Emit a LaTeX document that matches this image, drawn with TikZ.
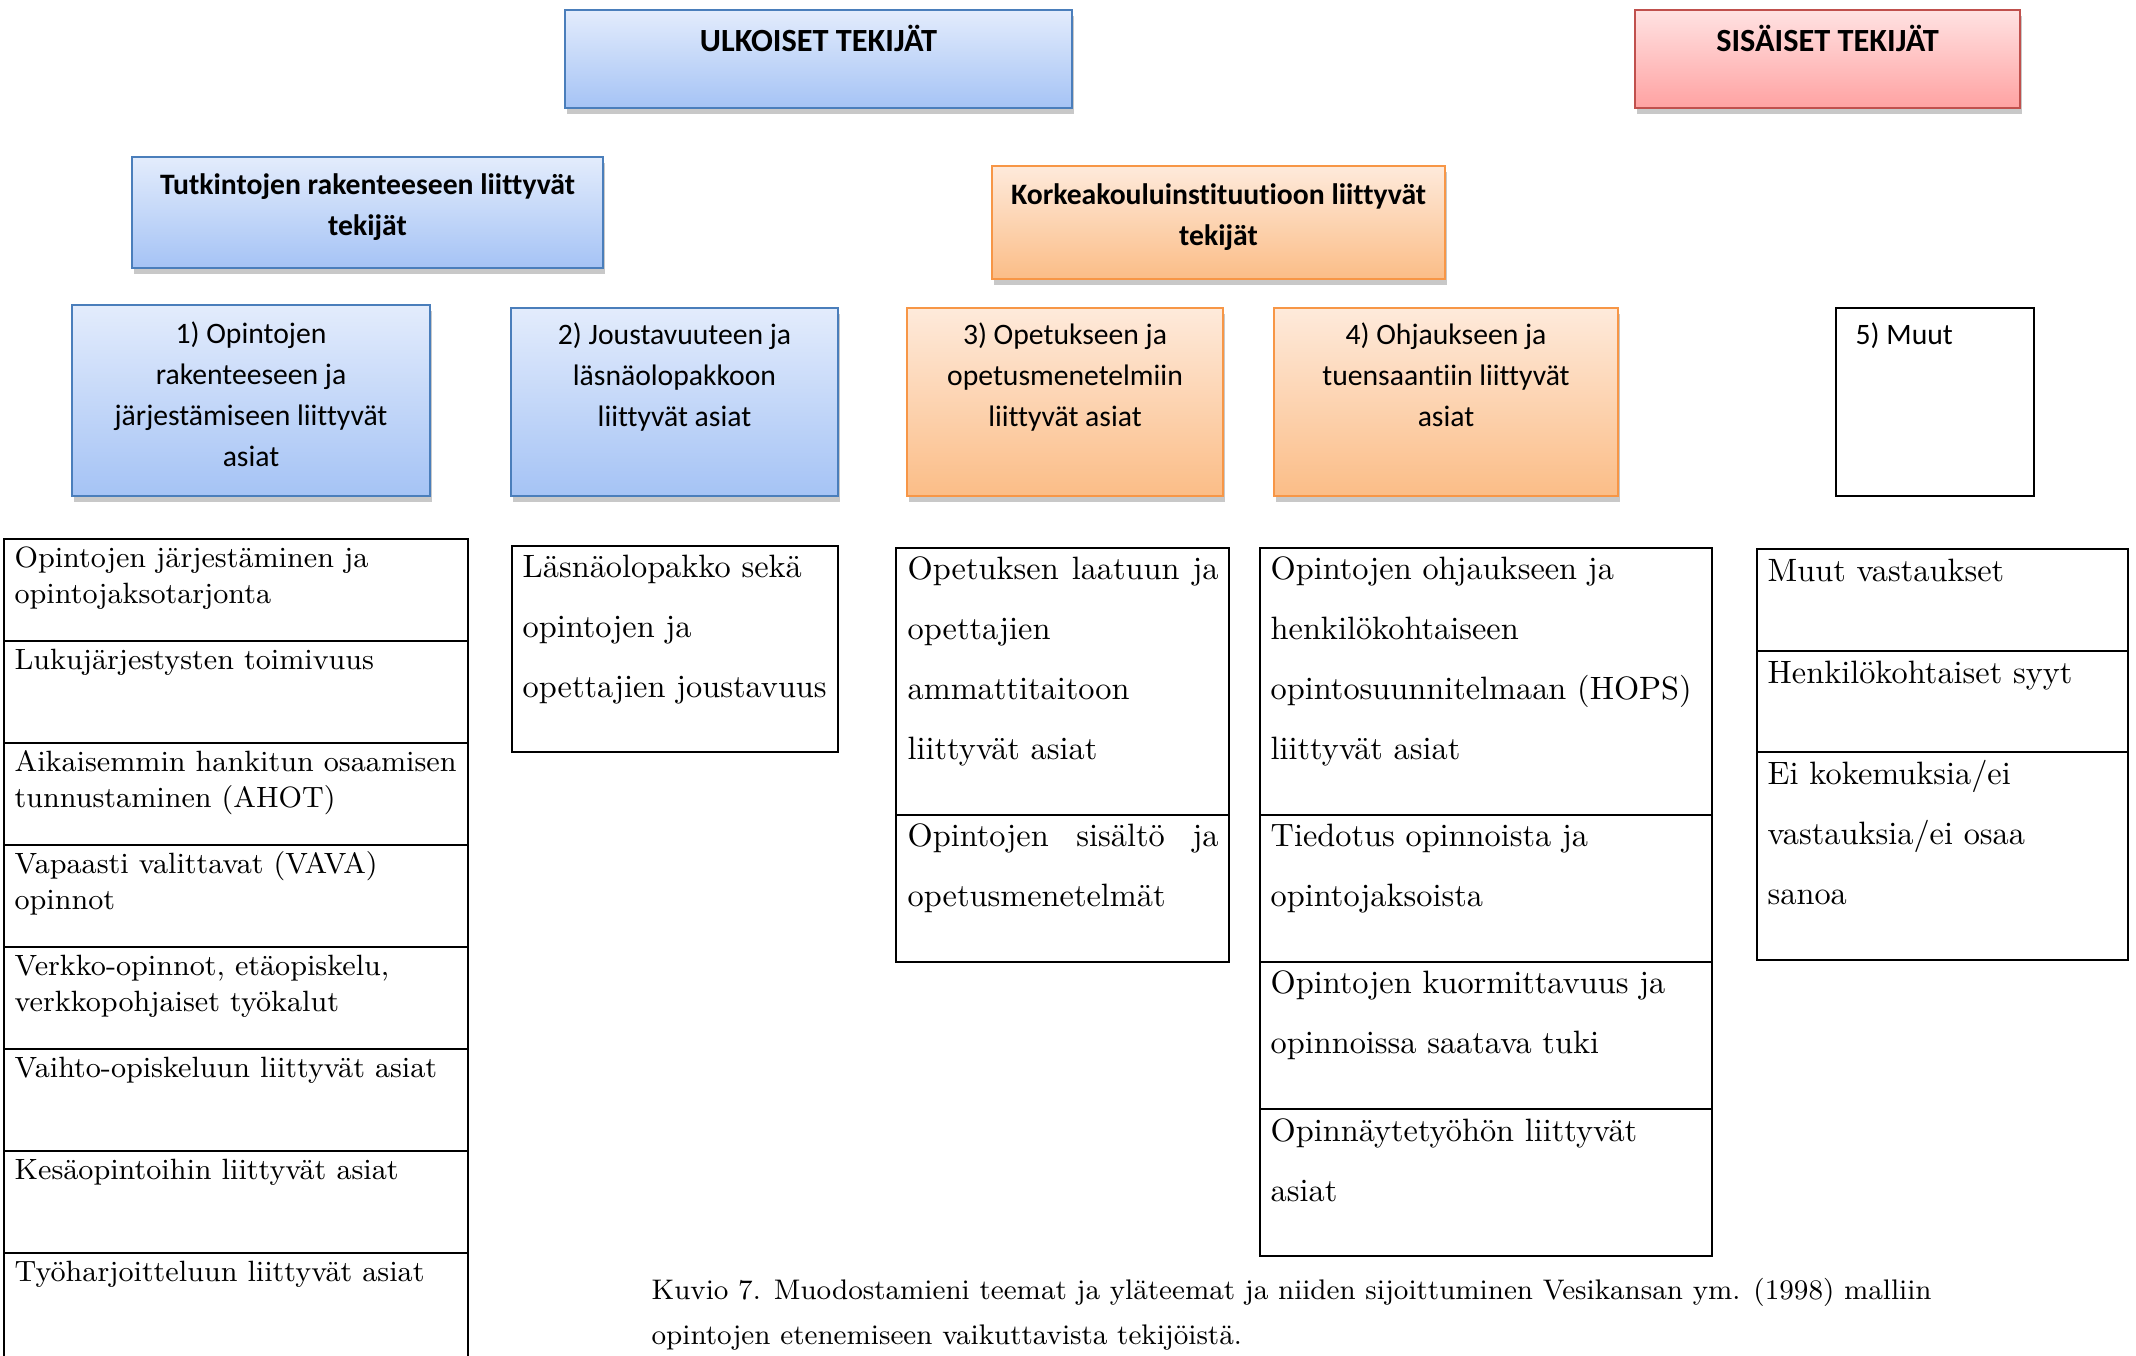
\documentclass[tikz,border=0pt]{standalone}
\usepackage{fontspec}
\newfontfamily\carl[Ligatures=NoCommon]{Carlito}
\usetikzlibrary{shadows}
\definecolor{bline}{HTML}{4A7EBB}
\definecolor{btop}{HTML}{E3ECFC}
\definecolor{bbot}{HTML}{A5C3F5}
\definecolor{oline}{HTML}{F79646}
\definecolor{otop}{HTML}{FEEADB}
\definecolor{obot}{HTML}{FBBD87}
\definecolor{rline}{HTML}{C0504D}
\definecolor{rtop}{HTML}{FFE2E2}
\definecolor{rbot}{HTML}{FFA2A2}
\begin{document}
\begin{tikzpicture}[x=0.3pt,y=-0.3pt,
  sh/.style={drop shadow={shadow xshift=0.6pt,shadow yshift=-1.8pt,opacity=0.3,fill=black!70}},
  sz/.style 2 args={minimum width=#1*0.3pt, minimum height=#2*0.3pt},
  bluebox/.style={draw=bline, line width=0.6pt, top color=btop, bottom color=bbot, sh, inner sep=0},
  orangebox/.style={draw=oline, line width=0.6pt, top color=otop, bottom color=obot, sh, inner sep=0},
  redbox/.style={draw=rline, line width=0.6pt, top color=rtop, bottom color=rbot, sh, inner sep=0},
  plainbox/.style={draw=black, line width=0.4pt, fill=white, inner sep=0},
  lbl/.style={font=\carl\fontsize{8.9pt}{12.3pt}\selectfont, align=center, inner sep=0, anchor=north},
  hdr/.style={font=\carl\bfseries\fontsize{8.9pt}{12.3pt}\selectfont, align=center, inner sep=0, anchor=north},
  tophdr/.style={font=\carl\bfseries\fontsize{9.7pt}{12.3pt}\selectfont, inner sep=0, anchor=base},
  smalltxt/.style={font=\fontsize{8.8pt}{10.8pt}\selectfont, align=left, inner sep=0, anchor=north west},
  bigtxt/.style={font=\fontsize{9.7pt}{18pt}\selectfont, align=left, inner sep=0, anchor=north west},
  captxt/.style={font=\fontsize{8.5pt}{13.5pt}\selectfont, align=left, inner sep=0, anchor=north west},
  tline/.style={line width=0.8pt}
]
\useasboundingbox[fill=white] (0,0) rectangle (2136,1355);

% top headers
\node[bluebox, sz={507}{98}] (ulk) at (818.5,59) {};
\node[tophdr] (ulkt) at (818.5,51) {ULKOISET TEKIJÄT};
\node[redbox, sz={385}{98}] (sis) at (1827.5,59) {};
\node[tophdr] (sist) at (1827.5,51) {SISÄISET TEKIJÄT};

\node[bluebox, sz={471}{111}] (tut) at (367.5,212.5) {};
\node[hdr] (tutt) at (367.5,165) {\strut Tutkintojen rakenteeseen liittyvät\\tekijät};
\node[orangebox, sz={453}{113}] (kor) at (1218.5,222.5) {};
\node[hdr] (kort) at (1218.5,175) {\strut Korkeakouluinstituutioon liittyvät\\tekijät};

% category boxes
\node[bluebox, sz={358}{191}] (b1) at (251,400.5) {};
\node[lbl] (b1t) at (251,314) {\strut 1) Opintojen\\rakenteeseen ja\\järjestämiseen liittyvät\\asiat};
\node[bluebox, sz={327}{188}] (b2) at (674.5,402) {};
\node[lbl] (b2t) at (674.5,315) {\strut 2) Joustavuuteen ja\\läsnäolopakkoon\\liittyvät asiat};
\node[orangebox, sz={316}{188}] (b3) at (1065,402) {};
\node[lbl] (b3t) at (1065,315) {\strut 3) Opetukseen ja\\opetusmenetelmiin\\liittyvät asiat};
\node[orangebox, sz={344}{188}] (b4) at (1446,402) {};
\node[lbl] (b4t) at (1446,315) {\strut 4) Ohjaukseen ja\\tuensaantiin liittyvät\\asiat};
\node[plainbox, sz={198}{188}] (b5) at (1935,402) {};
\node[lbl, anchor=north west] (b5t) at (1855,315) {\strut 5) Muut};

% table 1
\draw[tline] (4,1362) -- (4,539) -- (468,539) -- (468,1362);
\foreach \yy in {641,743,845,947,1049,1151,1253} \draw[tline] (4,\yy) -- (468,\yy);
\node[smalltxt] (t1a) at (14,542) {\strut Opintojen järjestäminen ja\\opintojaksotarjonta};
\node[smalltxt] (t1b) at (14,644) {\strut Lukujärjestysten toimivuus};
\node[smalltxt] (t1c) at (14,746) {\strut Aikaisemmin hankitun osaamisen\\tunnustaminen (AHOT)};
\node[smalltxt] (t1d) at (14,848) {\strut Vapaasti valittavat (VAVA)\\opinnot};
\node[smalltxt] (t1e) at (14,950) {\strut Verkko-opinnot, etäopiskelu,\\verkkopohjaiset työkalut};
\node[smalltxt] (t1f) at (14,1052) {\strut Vaihto-opiskeluun liittyvät asiat};
\node[smalltxt] (t1g) at (14,1154) {\strut Kesäopintoihin liittyvät asiat};
\node[smalltxt] (t1h) at (14,1256) {\strut Työharjoitteluun liittyvät asiat};

% table 2
\draw[tline] (512,546) rectangle (838,752);
\node[bigtxt] (t2a) at (522,535) {\strut Läsnäolopakko sekä\\opintojen ja\\opettajien joustavuus};

% table 3
\draw[tline] (896,548) rectangle (1229,962);
\draw[tline] (896,815) -- (1229,815);
\node[bigtxt] (t3a) at (907,537) {\strut\makebox[93.3pt][s]{Opetuksen laatuun ja}\\opettajien\\ammattitaitoon\\liittyvät asiat};
\node[bigtxt] (t3b) at (907,804) {\strut\makebox[93.3pt][s]{Opintojen sisältö ja}\\opetusmenetelmät};

% table 4
\draw[tline] (1260,548) rectangle (1712,1256);
\foreach \yy in {815,962,1109} \draw[tline] (1260,\yy) -- (1712,\yy);
\node[bigtxt] (t4a) at (1270,537) {\strut Opintojen ohjaukseen ja\\henkilökohtaiseen\\opintosuunnitelmaan (HOPS)\\liittyvät asiat};
\node[bigtxt] (t4b) at (1270,804) {\strut Tiedotus opinnoista ja\\opintojaksoista};
\node[bigtxt] (t4c) at (1270,951) {\strut Opintojen kuormittavuus ja\\opinnoissa saatava tuki};
\node[bigtxt] (t4d) at (1270,1099) {\strut Opinnäytetyöhön liittyvät\\asiat};

% table 5
\draw[tline] (1757,549) rectangle (2128,960);
\foreach \yy in {651,752} \draw[tline] (1757,\yy) -- (2128,\yy);
\node[bigtxt] (t5a) at (1767,539) {\strut Muut vastaukset};
\node[bigtxt] (t5b) at (1767,641) {\strut Henkilökohtaiset syyt};
\node[bigtxt] (t5c) at (1767,742) {\strut Ei kokemuksia/ei\\vastauksia/ei osaa\\sanoa};

% caption
\node[captxt] (cap) at (651,1267) {\strut Kuvio 7. Muodostamieni teemat ja yläteemat ja niiden sijoittuminen Vesikansan ym. (1998) malliin\\opintojen etenemiseen vaikuttavista tekijöistä.};
\end{tikzpicture}
\end{document}
